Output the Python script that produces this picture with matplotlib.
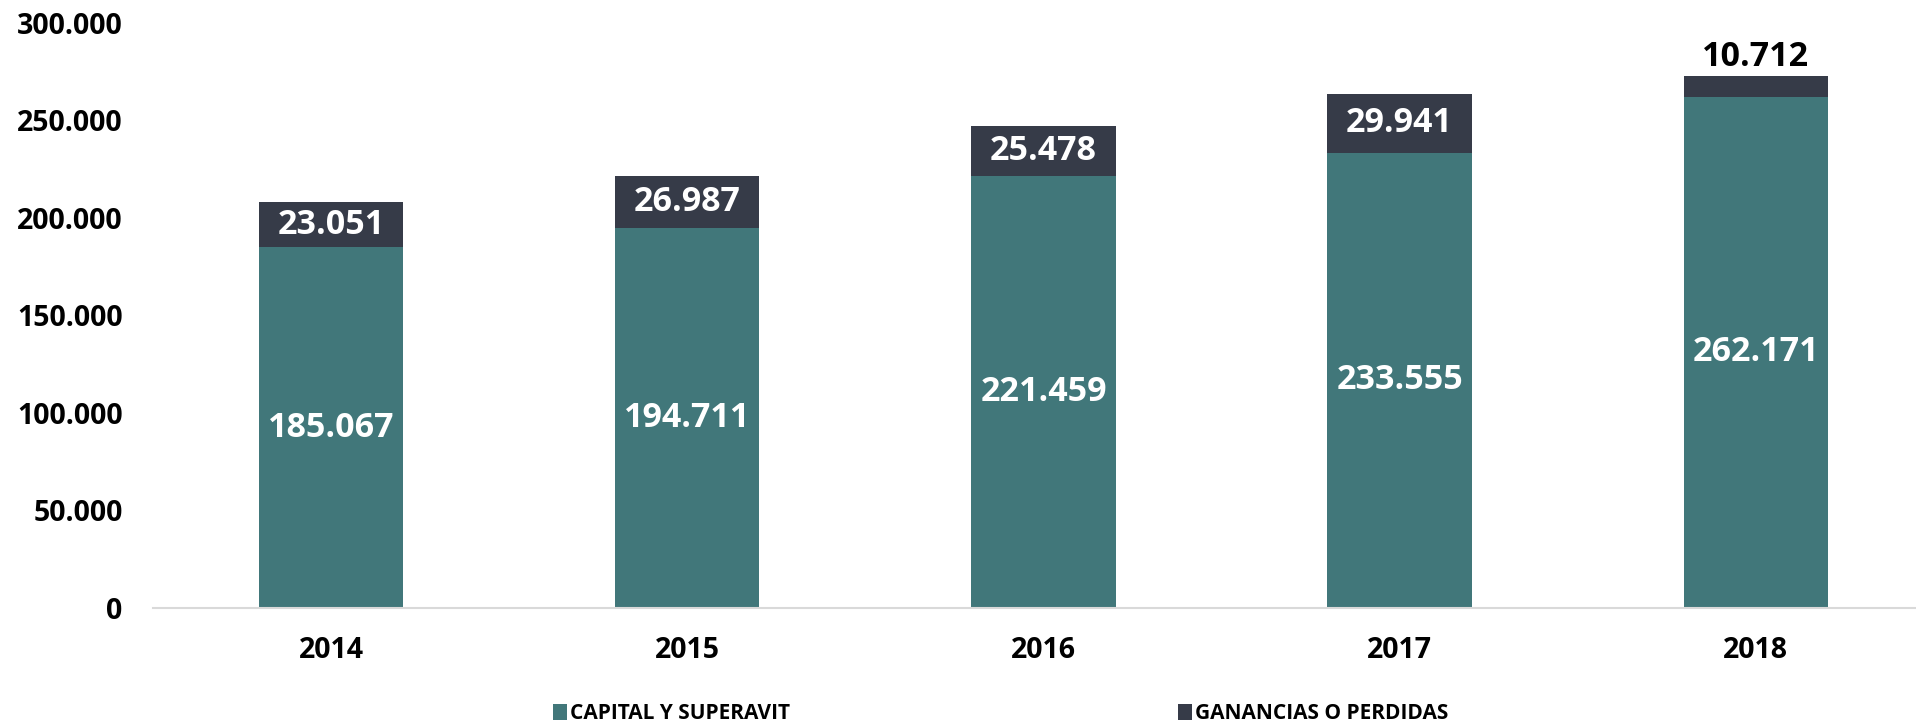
import matplotlib.pyplot as plt
from matplotlib.ticker import FuncFormatter

years = ["2014", "2015", "2016", "2017", "2018"]
capital = [185067, 194711, 221459, 233555, 262171]
ganancias = [23051, 26987, 25478, 29941, 10712]

teal = "#41777A"
dark = "#363B48"

plt.rcParams['font.family'] = ['Open Sans', 'DejaVu Sans']
plt.rcParams['font.weight'] = 'bold'


def miles(v):
    return f"{v:,.0f}".replace(",", ".")


fig = plt.figure(figsize=(19.16, 7.27), dpi=100)
ax = fig.add_axes([0.0799, 0.1637, 0.9201, 0.8047])

x = range(len(years))
width = 0.405
b1 = ax.bar(x, capital, width, color=teal, label="CAPITAL Y SUPERAVIT")
b2 = ax.bar(x, ganancias, width, bottom=capital, color=dark, label="GANANCIAS O PERDIDAS")

for i, (c, g) in enumerate(zip(capital, ganancias)):
    ax.text(i, c / 2, miles(c), ha='center', va='center', color='white',
            fontsize=24.5, fontweight='bold')
    if g > 15000:
        ax.text(i, c + g / 2, miles(g), ha='center', va='center', color='white',
                fontsize=24.5, fontweight='bold')
    else:
        ax.text(i, c + g + 800, miles(g), ha='center', va='bottom', color='black',
                fontsize=24.5, fontweight='bold')

ax.set_xlim(-0.5, 4.45)
ax.set_ylim(0, 300000)
ax.set_yticks(range(0, 300001, 50000))
ax.yaxis.set_major_formatter(FuncFormatter(lambda v, p: miles(v)))
ax.set_xticks(list(x))
ax.set_xticklabels(years)
ax.tick_params(axis='both', length=0, labelsize=20.5)
ax.tick_params(axis='y', pad=22)
ax.tick_params(axis='x', pad=20)
for lab in ax.get_xticklabels() + ax.get_yticklabels():
    lab.set_fontweight('bold')

for s in ['top', 'right', 'left']:
    ax.spines[s].set_visible(False)
ax.spines['bottom'].set_color('#D9D9D9')
ax.spines['bottom'].set_linewidth(1.5)

leg = fig.legend(handles=[b1, b2], loc='center left', bbox_to_anchor=(553 / 1916, 0.018),
                 ncol=2, frameon=False, borderpad=0, borderaxespad=0,
                 handlelength=0.67, handleheight=0.77, handletextpad=0.15,
                 columnspacing=18.6,
                 prop={'family': 'Open Sans', 'weight': 'bold', 'size': 15})

fig.savefig("out.png", dpi=100)
